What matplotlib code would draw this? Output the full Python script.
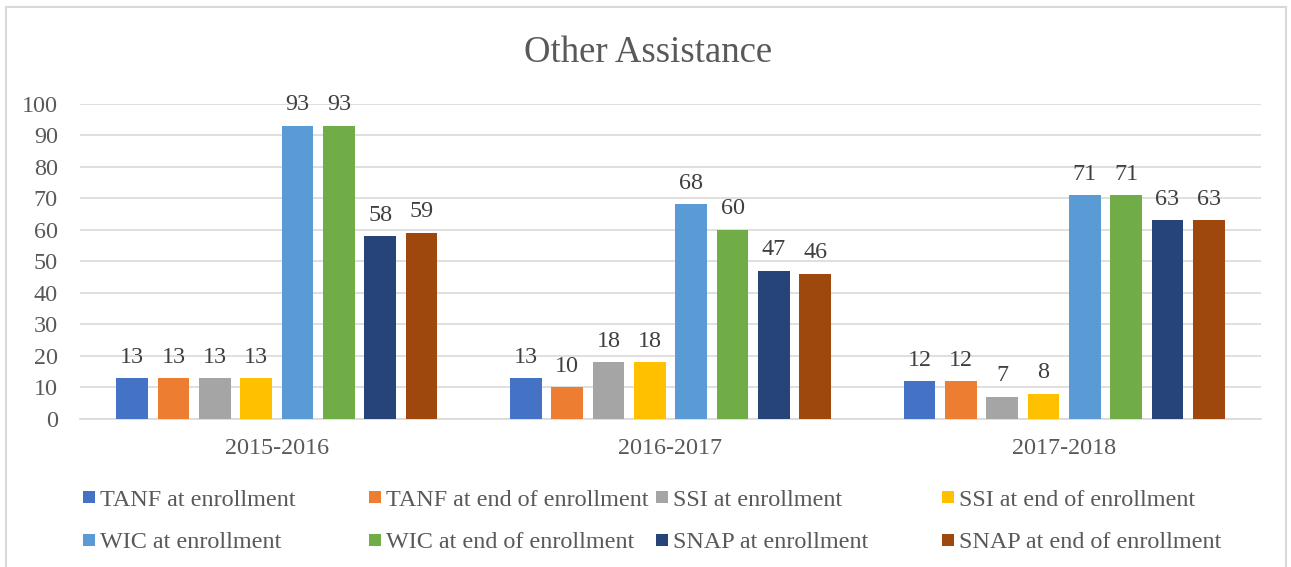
import matplotlib
matplotlib.use("Agg")
import matplotlib.pyplot as plt
from matplotlib.patches import Rectangle
import numpy as np

plt.rcParams['font.family'] = ['Liberation Serif', 'DejaVu Serif']

categories = ["2015-2016", "2016-2017", "2017-2018"]
series_names = ["TANF at enrollment", "TANF at end of enrollment", "SSI at enrollment",
                "SSI at end of enrollment", "WIC at enrollment", "WIC at end of enrollment",
                "SNAP at enrollment", "SNAP at end of enrollment"]
tanf_start = [13, 13, 12]
tanf_end = [13, 10, 12]
ssi_start = [13, 18, 7]
ssi_end = [13, 18, 8]
wic_start = [93, 68, 71]
wic_end = [93, 60, 71]
snap_start = [58, 47, 63]
snap_end = [59, 46, 63]
values = [tanf_start, tanf_end, ssi_start, ssi_end, wic_start, wic_end, snap_start, snap_end]
colors = ["#4472C4", "#ED7D31", "#A5A5A5", "#FFC000", "#5B9BD5", "#70AD47", "#264478", "#9E480E"]
yticks = [0, 10, 20, 30, 40, 50, 60, 70, 80, 90, 100]

W, H = 1291, 567
fig = plt.figure(figsize=(W / 100, H / 100), dpi=100)
ax = fig.add_axes([80 / W, 1 - 419 / H, (1261 - 80) / W, (419 - 103.5) / H])

text_color = "#595959"
fs = 17.4
x = np.arange(len(categories))
step = 0.105
width = 0.081
n = len(values)
for i, (vals, c) in enumerate(zip(values, colors)):
    pos = x + (i - (n - 1) / 2) * step
    bars = ax.bar(pos, vals, width=width, color=c, zorder=3)
    for b, v in zip(bars, vals):
        ax.annotate(str(v), (b.get_x() + b.get_width() / 2, v), xytext=(0, 7.5),
                    textcoords="offset points", ha="center", va="bottom",
                    fontsize=fs, color="#404040")

ax.set_xlim(-0.5, len(categories) - 0.5)
ax.set_ylim(0, 100)
ax.set_yticks(yticks)
ax.set_yticklabels([str(t) for t in yticks], fontsize=fs, color=text_color)
ax.set_xticks(x)
ax.set_xticklabels(categories, fontsize=fs, color=text_color)
ax.tick_params(axis='y', length=0, pad=16)
ax.tick_params(axis='x', length=0, pad=14)
ax.yaxis.grid(True, color="#d9d9d9", linewidth=1.2, zorder=0)
for s in ["top", "right", "left"]:
    ax.spines[s].set_visible(False)
ax.spines["bottom"].set_color("#d9d9d9")
ax.spines["bottom"].set_linewidth(1.2)
ax.set_axisbelow(True)

fig.text(648 / W, 1 - 53 / H, "Other Assistance", ha="center", va="center",
         fontsize=26.5, color=text_color)

# legend (manual, Excel-style uneven columns)
marker_x = [83, 369, 656, 942]
rows_y = [497, 540]
for i, (name, c) in enumerate(zip(series_names, colors)):
    col = i % 4
    row = i // 4
    mx = marker_x[col]
    my = rows_y[row]
    fig.patches.append(Rectangle((mx / W, 1 - (my + 6) / H), 12 / W, 12 / H,
                                 transform=fig.transFigure, facecolor=c, edgecolor='none'))
    fig.text((mx + 17) / W, 1 - (my + 3) / H, name, ha="left", va="center",
             fontsize=fs, color=text_color)

# chart border
fig.patches.append(Rectangle((6 / W, -0.05), (1286 - 6) / W, 1 - 7 / H + 0.05,
                             transform=fig.transFigure, facecolor='none',
                             edgecolor="#d9d9d9", linewidth=1.5, clip_on=False))

fig.savefig("out.png", dpi=100)
